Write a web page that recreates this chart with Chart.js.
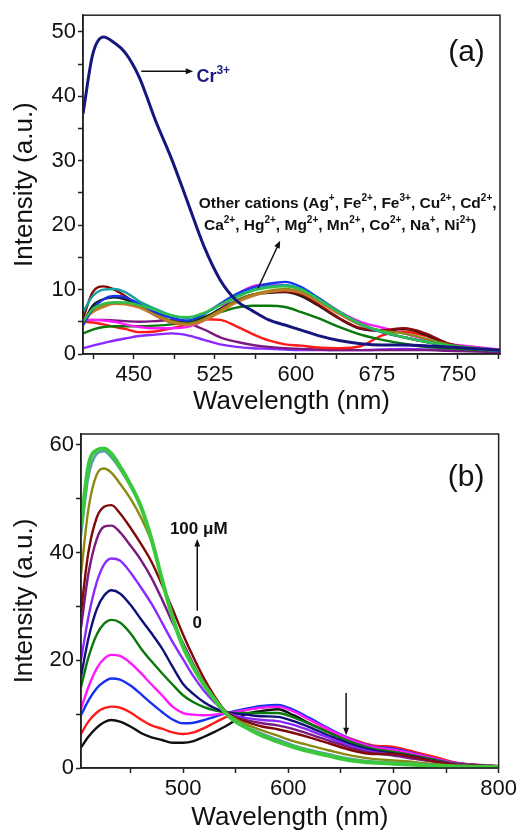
<!DOCTYPE html>
<html>
<head>
<meta charset="utf-8">
<script src="https://cdn.jsdelivr.net/npm/chart.js@4.4.0/dist/chart.umd.min.js"></script>
<style>
  body { margin: 0; background: #fff; width: 520px; height: 833px; position: relative; overflow: hidden; }
  canvas { position: absolute; left: 0; }
  #chartA { top: 0; }
  #chartB { top: 400px; }
</style>
</head>
<body>
<canvas id="chartA" width="520" height="420"></canvas>
<canvas id="chartB" width="520" height="433"></canvas>
<script>
const FONT = "Arial, 'Liberation Sans', sans-serif";

// ---------- panel (a): response to different cations ----------
const waveA = [403, 412, 422, 432, 442, 455, 470, 485, 500, 515, 530, 545, 560, 575, 590, 605, 620, 640, 660, 680, 700, 720, 740, 760, 789];
const cr3 = [37.3, 46.5, 49.2, 48.3, 46.8, 43, 36.3, 30.3, 23.5, 16.7, 11.5, 8.3, 6.7, 5.3, 4.5, 3.7, 2.9, 2.1, 1.6, 1.4, 1.4, 1.3, 1.1, 0.9, 0.6];
const otherBlue = [4.5, 7, 8.5, 9, 8.8, 7.8, 6.5, 5.6, 5.2, 6.2, 7.8, 9.3, 10.3, 10.9, 11.2, 10.4, 8.8, 6.6, 4.7, 3.4, 2.6, 1.9, 1.3, 0.9, 0.5];
const otherTeal = [6.5, 9, 10, 10.1, 9.6, 8.2, 7, 6, 5.6, 6.3, 7.6, 9, 10, 10.5, 10.7, 10.1, 8.6, 6.5, 4.6, 3.4, 2.6, 1.9, 1.3, 0.9, 0.5];
const otherGreen = [5, 7, 7.8, 8, 8, 7.6, 6.8, 6, 5.7, 6.4, 7.6, 8.8, 9.8, 10.3, 10.5, 10, 8.6, 6.5, 4.7, 3.5, 2.6, 1.9, 1.4, 1, 0.6];
const otherMaroon = [5.5, 9.6, 10.5, 10, 9, 7.5, 6, 4.9, 4.6, 5.4, 6.8, 8.2, 9.2, 9.6, 9.7, 9.2, 7.8, 5.6, 4, 3.7, 4, 3.2, 1.7, 1, 0.5];
const otherOrange = [5.3, 6.5, 7.3, 7.8, 7.7, 7.2, 6, 4.9, 4.5, 5.2, 6.5, 8, 9, 9.6, 9.9, 9.5, 8.2, 6.2, 4.5, 3.4, 2.6, 1.9, 1.3, 0.9, 0.5];
const otherBlack = [4.8, 7.5, 8.5, 8.8, 8.5, 7.4, 6.2, 5.1, 4.8, 5.6, 7, 8.3, 9.2, 9.5, 9.6, 9, 7.6, 5.5, 3.9, 3.6, 3.9, 3, 1.6, 0.9, 0.5];
const otherOlive = [4.5, 6.8, 7.6, 8, 7.9, 7.3, 6.2, 5.1, 4.7, 5.4, 6.8, 8.2, 9.2, 9.8, 10.1, 9.6, 8.3, 6.3, 4.5, 3.6, 3.2, 2.4, 1.5, 1, 0.5];
const otherDkGreen = [3.2, 3.8, 4.2, 4.3, 4.3, 4.3, 4.4, 4.6, 5, 5.8, 6.5, 7.2, 7.5, 7.5, 7.3, 6.5, 5.6, 4.2, 3, 2.2, 1.6, 1.1, 0.9, 0.7, 0.5];
const otherRed = [5, 4.9, 4.6, 4.2, 3.9, 3.4, 3.5, 4, 4.6, 5.4, 5.3, 4.3, 3.1, 2.1, 1.5, 1.3, 1, 0.9, 1.2, 2.9, 3.5, 2.8, 1.6, 0.9, 0.5];
const otherMagenta = [5.3, 5.3, 5.2, 5, 4.6, 4.2, 4, 4, 4.2, 5.2, 7, 9.2, 10.5, 10.8, 10.7, 10, 8.6, 6.6, 5, 4.1, 3.2, 2.3, 1.6, 1.2, 0.7];
const otherPurple = [5.2, 5.3, 5.3, 5.2, 5.1, 5, 5.1, 5.3, 4.8, 3.8, 2.6, 1.9, 1.4, 1.1, 0.9, 0.8, 0.7, 0.6, 0.6, 0.6, 0.6, 0.6, 0.5, 0.4, 0.3];
const otherViolet = [0.9, 1.3, 1.7, 2.1, 2.4, 2.8, 3, 3.2, 2.9, 2.2, 1.5, 1.1, 0.9, 0.8, 0.7, 0.6, 0.6, 0.6, 0.6, 0.7, 0.8, 0.7, 0.6, 0.5, 0.3];

const xTicksA = [412.5, 450, 487.5, 525, 562.5, 600, 637.5, 675, 712.5, 750, 787.5];
const xLabelsA = [450, 525, 600, 675, 750];
const yTicksA = [0, 5, 10, 15, 20, 25, 30, 35, 40, 45, 50];
const yLabelsA = [0, 10, 20, 30, 40, 50];

// ---------- panel (b): titration with Cr3+ (0 -> 100 uM) ----------
const waveB = [403, 410, 418, 425, 432, 440, 450, 460, 470, 480, 490, 500, 510, 520, 530, 540, 550, 560, 575, 590, 605, 620, 640, 660, 680, 700, 720, 740, 760, 780, 800];
const titr0 = [3.8, 5.8, 7.5, 8.5, 8.9, 8.6, 7.7, 6.5, 5.7, 5.2, 4.7, 4.7, 5, 5.8, 6.7, 7.7, 8.9, 10, 10.6, 10.9, 9.8, 8.3, 6.5, 4.8, 3.8, 3.4, 2.6, 1.7, 0.9, 0.5, 0.3];
const titr1 = [6.3, 8.6, 10.3, 11.1, 11.4, 11.2, 10.3, 9, 7.9, 7.3, 6.6, 6.3, 6.6, 7.4, 8.4, 9.4, 10.2, 10.8, 11.2, 11.4, 10.6, 9, 7, 5.4, 4.2, 3.9, 3, 2, 1, 0.6, 0.4];
const titr2 = [9.8, 12.5, 14.8, 16, 16.6, 16.4, 15.3, 13.7, 12, 10.4, 9, 8.3, 8.4, 8.9, 9.5, 10.1, 10.6, 11, 11.5, 11.7, 10.8, 9.3, 7.2, 5.3, 4, 3.6, 2.7, 1.7, 0.9, 0.5, 0.3];
const titr3 = [11, 15, 18.5, 20.3, 21, 20.8, 19.5, 17.6, 15.5, 13.5, 11.4, 10.2, 9.9, 9.8, 9.9, 10.1, 10.4, 10.8, 11.2, 11.4, 10.5, 9, 7, 5.2, 3.9, 3.4, 2.6, 1.7, 0.9, 0.5, 0.3];
const titr4 = [15, 20.5, 24.8, 26.8, 27.5, 27, 25, 22.2, 19.8, 17.6, 15.5, 13.5, 12.2, 11.3, 10.7, 10.3, 10.2, 10.2, 10.2, 10.2, 9.4, 8.2, 6.4, 4.8, 3.6, 3, 2.3, 1.5, 0.8, 0.5, 0.3];
const titr5 = [17, 24, 29.5, 32, 33, 32.4, 30.3, 27.6, 25, 22.2, 18.8, 15.6, 13.7, 12.2, 11.1, 10.4, 10.1, 9.9, 9.6, 9.5, 8.7, 7.6, 5.9, 4.4, 3.3, 2.7, 2.1, 1.3, 0.7, 0.4, 0.3];
const titr6 = [20, 28, 34.5, 37.8, 38.9, 38.5, 36.3, 33.5, 30.5, 27, 23.4, 20.2, 17, 14.3, 12.2, 10.5, 9.7, 9.3, 8.9, 8.7, 8, 7, 5.5, 4, 3, 2.5, 1.9, 1.2, 0.7, 0.4, 0.3];
const titr7 = [26, 36, 42.5, 44.8, 45, 43.8, 41.3, 38.6, 35.3, 31.3, 27, 23.2, 19.2, 15.7, 12.8, 10.5, 9.4, 8.9, 8.3, 7.9, 7.2, 6.3, 5, 3.7, 2.8, 2.3, 1.7, 1.1, 0.6, 0.4, 0.3];
const titr8 = [29, 40, 46.5, 48.5, 48.8, 47.3, 44.6, 41.6, 38.3, 34, 29.5, 24.8, 20.5, 16.6, 13.3, 10.6, 9.3, 8.6, 7.7, 7.2, 6.5, 5.7, 4.5, 3.3, 2.6, 2.6, 2, 1.2, 0.6, 0.4, 0.3];
const titr9 = [36, 48, 54.5, 55.6, 54.8, 52.8, 50, 46.5, 42, 35, 28, 22.8, 19, 15.8, 13, 10.4, 9.1, 8.1, 7, 6, 5, 4.2, 3.2, 2.3, 1.7, 1.4, 1.1, 0.7, 0.4, 0.3, 0.2];
const titr10 = [43, 54, 58.3, 58.8, 57.6, 55.5, 52.3, 48.3, 42.5, 35, 28, 22.6, 18.8, 15.5, 12.8, 10.3, 8.8, 7.7, 6.4, 5.3, 4.2, 3.4, 2.5, 1.7, 1.2, 1, 0.8, 0.5, 0.3, 0.2, 0.2];
const titr11 = [45, 56, 59, 59.3, 58.3, 56, 52.6, 48.5, 42.5, 35, 28, 22.5, 18.6, 15.4, 12.7, 10.3, 8.6, 7.5, 6, 4.9, 3.9, 3.1, 2.2, 1.4, 1, 0.8, 0.6, 0.4, 0.3, 0.2, 0.2];

const xTicksB = [450, 500, 550, 600, 650, 700, 750, 800];
const xLabelsB = [500, 600, 700, 800];
const yTicksB = [0, 10, 20, 30, 40, 50, 60];
const yLabelsB = [0, 20, 40, 60];

// ---------- helpers ----------
const toPoints = (xs, ys) => ys.map((y, i) => ({ x: xs[i], y: y }));

const line = (label, xs, ys, color, width) => ({
  label: label,
  data: toPoints(xs, ys),
  borderColor: color,
  borderWidth: width || 2.4,
  pointRadius: 0,
  cubicInterpolationMode: 'monotone',
  fill: false
});

// text with ^{..} superscripts
function drawRich(ctx, str, x, y, size, color, align) {
  const parts = str.split(/(\^\{[^}]*\})/).filter(p => p.length);
  const segs = parts.map(p => p.startsWith('^{') ? { t: p.slice(2, -1), sup: true } : { t: p, sup: false });
  const supSize = Math.round(size * 0.64);
  let total = 0;
  segs.forEach(s => {
    ctx.font = `bold ${s.sup ? supSize : size}px ${FONT}`;
    s.w = ctx.measureText(s.t).width;
    total += s.w;
  });
  let cx = align === 'center' ? x - total / 2 : x;
  ctx.fillStyle = color;
  ctx.textAlign = 'left';
  ctx.textBaseline = 'alphabetic';
  segs.forEach(s => {
    ctx.font = `bold ${s.sup ? supSize : size}px ${FONT}`;
    ctx.fillText(s.t, cx, s.sup ? y - size * 0.42 : y);
    cx += s.w;
  });
}

function arrow(ctx, x1, y1, x2, y2, color) {
  const ang = Math.atan2(y2 - y1, x2 - x1);
  const head = 8;
  ctx.save();
  ctx.strokeStyle = color;
  ctx.fillStyle = color;
  ctx.lineWidth = 1.5;
  ctx.beginPath();
  ctx.moveTo(x1, y1);
  ctx.lineTo(x2 - Math.cos(ang) * head * 0.8, y2 - Math.sin(ang) * head * 0.8);
  ctx.stroke();
  ctx.beginPath();
  ctx.moveTo(x2, y2);
  ctx.lineTo(x2 - head * Math.cos(ang - 0.38), y2 - head * Math.sin(ang - 0.38));
  ctx.lineTo(x2 - head * Math.cos(ang + 0.38), y2 - head * Math.sin(ang + 0.38));
  ctx.closePath();
  ctx.fill();
  ctx.restore();
}

const framePlugin = {
  id: 'frame',
  afterDatasetsDraw(chart) {
    const { ctx, chartArea: a } = chart;
    ctx.save();
    ctx.strokeStyle = '#222';
    ctx.lineWidth = 1.5;
    ctx.strokeRect(a.left, a.top, a.right - a.left, a.bottom - a.top);
    ctx.restore();
  }
};

function axisOptions(opt) {
  return {
    x: {
      type: 'linear',
      min: opt.xMin, max: opt.xMax,
      afterBuildTicks: s => { s.ticks = opt.xTicks.map(v => ({ value: v })); },
      afterFit: s => { s.height = opt.xHeight; },
      ticks: {
        autoSkip: false, maxRotation: 0, padding: 3,
        color: '#111', font: { family: FONT, size: 22 },
        callback: v => opt.xLabels.includes(v) ? String(v) : ''
      },
      grid: { drawOnChartArea: false, drawTicks: true, tickLength: 5, color: '#222', tickWidth: 1.5 },
      border: { display: true, color: '#222', width: 1.5 },
      title: { display: true, text: 'Wavelength (nm)', color: '#111', font: { family: FONT, size: 26 }, padding: { top: 0, bottom: opt.xTitlePad } }
    },
    y: {
      min: opt.yMin, max: opt.yMax,
      afterBuildTicks: s => { s.ticks = opt.yTicks.map(v => ({ value: v })); },
      afterFit: s => { s.width = opt.yWidth; },
      ticks: {
        autoSkip: false, padding: 2,
        color: '#111', font: { family: FONT, size: 22 },
        callback: v => opt.yLabels.includes(v) ? String(v) : ''
      },
      grid: { drawOnChartArea: false, drawTicks: true, tickLength: 5, color: '#222', tickWidth: 1.5 },
      border: { display: true, color: '#222', width: 1.5 },
      title: { display: true, text: 'Intensity (a.u.)', color: '#111', font: { family: FONT, size: 26 }, padding: { top: 9, bottom: 0 } }
    }
  };
}

// ---------- chart (a) ----------
const annotA = {
  id: 'annotA',
  afterDatasetsDraw(chart) {
    const { ctx, scales: { x, y } } = chart;
    ctx.save();
    ctx.font = `30px ${FONT}`;
    ctx.fillStyle = '#111';
    ctx.textAlign = 'center';
    ctx.textBaseline = 'middle';
    ctx.fillText('(a)', x.getPixelForValue(758), y.getPixelForValue(46.8));
    arrow(ctx, x.getPixelForValue(457), y.getPixelForValue(43.9), x.getPixelForValue(505), y.getPixelForValue(43.9), '#111');
    drawRich(ctx, 'Cr^{3+}', x.getPixelForValue(508), y.getPixelForValue(42.3), 18, '#1a1a80', 'left');
    drawRich(ctx, 'Other cations (Ag^{+}, Fe^{2+}, Fe^{3+}, Cu^{2+}, Cd^{2+},', x.getPixelForValue(648), y.getPixelForValue(22.7), 15.5, '#111', 'center');
    drawRich(ctx, 'Ca^{2+}, Hg^{2+}, Mg^{2+}, Mn^{2+}, Co^{2+}, Na^{+}, Ni^{2+})', x.getPixelForValue(641), y.getPixelForValue(19.3), 15.5, '#111', 'center');
    arrow(ctx, x.getPixelForValue(565), y.getPixelForValue(10.2), x.getPixelForValue(585.5), y.getPixelForValue(17.6), '#111');
    ctx.restore();
  }
};

new Chart(document.getElementById('chartA'), {
  type: 'line',
  data: {
    datasets: [
      line('Cr3+', waveA, cr3, '#16167e', 3),
      line('Other cations', waveA, otherGreen, '#2ec04a'),
      line('Other cations', waveA, otherTeal, '#16a0a0'),
      line('Other cations', waveA, otherBlue, '#1535e8'),
      line('Other cations', waveA, otherOrange, '#c27a2c'),
      line('Other cations', waveA, otherOlive, '#8a8a10'),
      line('Other cations', waveA, otherMaroon, '#8a0a0a'),
      line('Other cations', waveA, otherBlack, '#181818'),
      line('Other cations', waveA, otherMagenta, '#ff1aff'),
      line('Other cations', waveA, otherDkGreen, '#0a780a'),
      line('Other cations', waveA, otherRed, '#ff1a1a'),
      line('Other cations', waveA, otherPurple, '#7a1a80'),
      line('Other cations', waveA, otherViolet, '#8a2aff')
    ]
  },
  options: {
    responsive: false,
    animation: false,
    layout: { padding: { left: 0, right: 20, top: 12, bottom: 0 } },
    plugins: { legend: { display: false }, tooltip: { enabled: false } },
    scales: axisOptions({
      xMin: 403, xMax: 789, xTicks: xTicksA, xLabels: xLabelsA, xHeight: 66, xTitlePad: 3,
      yMin: 0, yMax: 52.6, yTicks: yTicksA, yLabels: yLabelsA, yWidth: 83
    })
  },
  plugins: [framePlugin, annotA]
});

// ---------- chart (b) ----------
const annotB = {
  id: 'annotB',
  afterDatasetsDraw(chart) {
    const { ctx, scales: { x, y } } = chart;
    ctx.save();
    ctx.font = `30px ${FONT}`;
    ctx.fillStyle = '#111';
    ctx.textAlign = 'center';
    ctx.textBaseline = 'middle';
    ctx.fillText('(b)', x.getPixelForValue(769), y.getPixelForValue(53.9));
    ctx.font = `bold 17px ${FONT}`;
    ctx.textAlign = 'left';
    ctx.fillText('100 \u03bcM', x.getPixelForValue(487.5), y.getPixelForValue(44.3));
    ctx.textAlign = 'center';
    ctx.fillText('0', x.getPixelForValue(513.5), y.getPixelForValue(26.9));
    arrow(ctx, x.getPixelForValue(513.5), y.getPixelForValue(29.2), x.getPixelForValue(513.5), y.getPixelForValue(42.5), '#111');
    arrow(ctx, x.getPixelForValue(655), y.getPixelForValue(13.9), x.getPixelForValue(655), y.getPixelForValue(6.1), '#111');
    ctx.restore();
  }
};

new Chart(document.getElementById('chartB'), {
  type: 'line',
  data: {
    datasets: [
      line('100 uM', waveB, titr11, '#3cc83c', 4),
      line('', waveB, titr10, '#5a9ab0'),
      line('', waveB, titr9, '#8a8a10'),
      line('', waveB, titr8, '#800a0a'),
      line('', waveB, titr7, '#7a1a80'),
      line('', waveB, titr6, '#8a2aff'),
      line('', waveB, titr5, '#10107a'),
      line('', waveB, titr4, '#0a780a'),
      line('', waveB, titr3, '#ff1aff'),
      line('', waveB, titr2, '#1530f0'),
      line('', waveB, titr1, '#ff1a1a'),
      line('0 uM', waveB, titr0, '#111111')
    ]
  },
  options: {
    responsive: false,
    animation: false,
    layout: { padding: { left: 0, right: 20, top: 34, bottom: 0 } },
    plugins: { legend: { display: false }, tooltip: { enabled: false } },
    scales: axisOptions({
      xMin: 403, xMax: 800, xTicks: xTicksB, xLabels: xLabelsB, xHeight: 65, xTitlePad: 0,
      yMin: 0, yMax: 62, yTicks: yTicksB, yLabels: yLabelsB, yWidth: 81
    })
  },
  plugins: [framePlugin, annotB]
});
</script>
</body>
</html>
